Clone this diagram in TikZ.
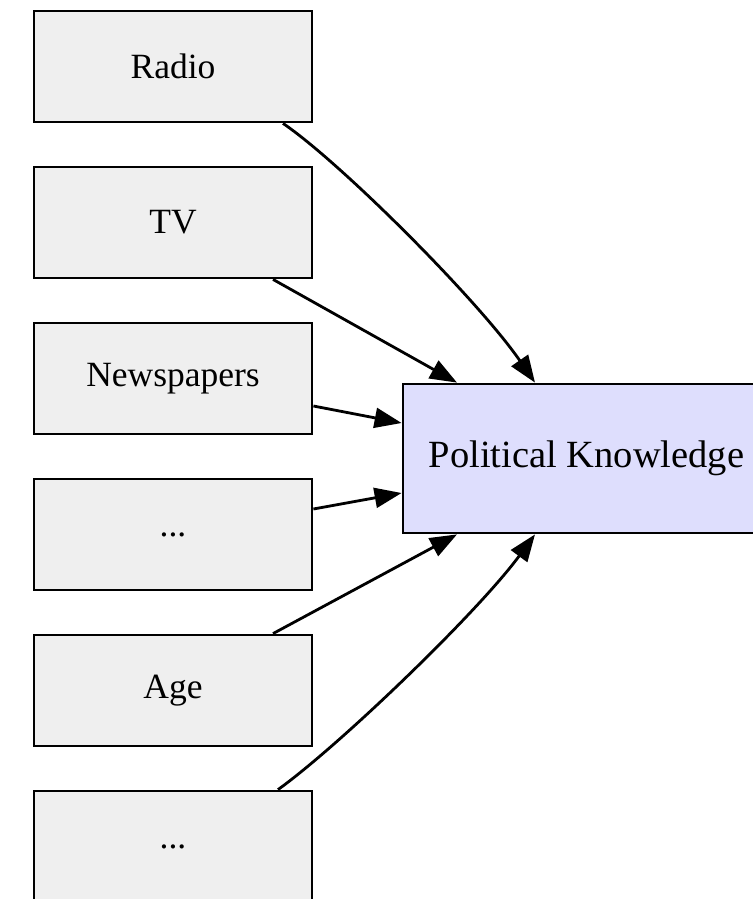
\documentclass[tikz,border=0pt]{standalone}
\usepackage{fontspec}
\setmainfont{Liberation Serif}
\usetikzlibrary{arrows.meta}
\definecolor{boxgray}{HTML}{EFEFEF}
\definecolor{pkblue}{HTML}{DEDEFD}

\begin{document}
\begin{tikzpicture}[x=1pt,y=-1pt,->,>={Triangle[length=27pt,width=20pt]},line width=2.8pt]
      \tikzstyle{box}=[shape=rectangle,draw=black,fill=boxgray,line width=2.8pt,minimum width=278pt,minimum height=111pt,inner sep=0pt,font=\fontsize{35.5}{40}\selectfont];
      \tikzstyle{target}=[shape=rectangle,draw=black,fill=pkblue,line width=2.8pt,minimum width=367pt,minimum height=149pt,inner sep=0pt,font=\fontsize{38.5}{42}\selectfont];

      \useasboundingbox (0,0) rectangle (752,899);

      \node[box](radio) at (173,66.5) {Radio};
      \node[box](tv) at (173,222.5) {TV};
      \node[box](news) at (173,378.5) {Newspapers};
      \node[box](dotsA) at (173,534.5) {...};
      \node[box](age) at (173,690.5) {Age};
      \node[box](dotsB) at (173,846.5) {...};
      \node[target](pk) at (586.5,458.5) {Political Knowledge};

      \draw ([xshift=110pt]radio.south) .. controls (340,162) and (478,300) .. ([xshift=-51.5pt]pk.north);
      \draw ([xshift=100pt]tv.south) -- ([xshift=-129.5pt]pk.north);
      \draw ([yshift=-27.5pt]news.east) -- ([yshift=35.5pt]pk.west);
      \draw ([yshift=25.5pt]dotsA.east) -- ([yshift=-34.5pt]pk.west);
      \draw ([xshift=100pt]age.north) -- ([xshift=-129.5pt]pk.south);
      \draw ([xshift=105pt]dotsB.north) .. controls (340,745) and (478,612) .. ([xshift=-51.5pt]pk.south);

    \end{tikzpicture}
\end{document}
